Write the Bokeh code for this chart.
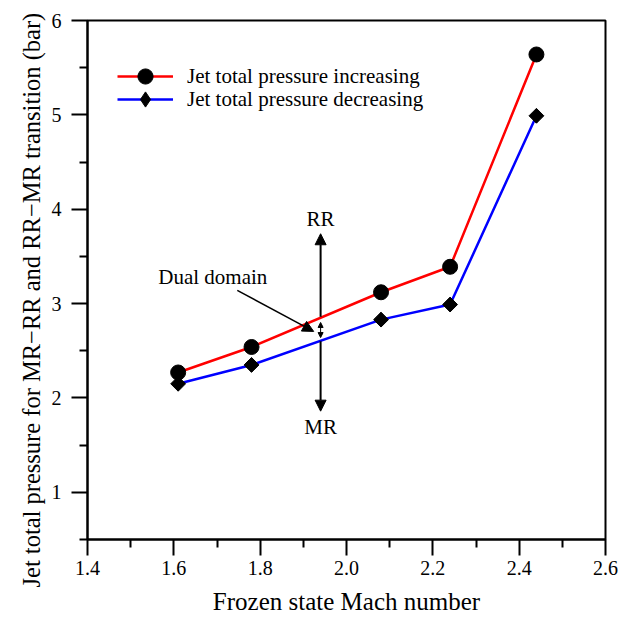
import math
from bokeh.plotting import figure
from bokeh.models import (Range1d, FixedTicker, PrintfTickFormatter, Legend,
                          LegendItem, Arrow, NormalHead, Label, Title)
from bokeh.embed import file_html
from bokeh.resources import INLINE

# ---- data ----
mach = [1.61, 1.78, 2.08, 2.24, 2.44]
p_increasing = [2.27, 2.54, 3.12, 3.39, 5.64]
p_decreasing = [2.15, 2.35, 2.83, 2.99, 4.99]

x_major = [1.4, 1.6, 1.8, 2.0, 2.2, 2.4, 2.6]
x_minor = [1.5, 1.7, 1.9, 2.1, 2.3, 2.5]
y_major = [1, 2, 3, 4, 5, 6]
y_minor = [0.5, 1.5, 2.5, 3.5, 4.5, 5.5]

x_title = "Frozen state Mach number"
y_title = "Jet total pressure for MR\u2212RR and RR\u2212MR transition (bar)"
series_labels = ["Jet total pressure increasing", "Jet total pressure decreasing"]

# annotation anchors (data units)
regime_x = 1.94
rr_arrow = [3.74, 2.86]      # tip, start
mr_arrow = [1.86, 2.60]
rr_label = [1.94, 3.90]
mr_label = [1.94, 1.69]
dual_small = [2.80, 2.64]
dual_label = [1.564, 3.28]
dual_arrow = [1.747, 3.14, 1.924, 2.705]

FONT = "Liberation Serif"

p = figure(width=620, height=619, output_backend="svg", toolbar_location=None,
           x_range=Range1d(1.4, 2.6), y_range=Range1d(0.5, 6.0),
           min_border_left=87, min_border_right=15, min_border_top=20,
           min_border_bottom=80)
p.xgrid.visible = False
p.ygrid.visible = False
p.outline_line_color = "black"
p.outline_line_width = 2
p.outline_line_alpha = 1
p.background_fill_color = "white"
p.border_fill_color = "white"

for ax in (p.xaxis[0], p.yaxis[0]):
    ax.axis_line_color = "black"
    ax.axis_line_width = 2
    ax.major_tick_line_color = "black"
    ax.major_tick_line_width = 2
    ax.minor_tick_line_color = "black"
    ax.minor_tick_line_width = 2
    ax.major_tick_in = 0
    ax.major_tick_out = 16
    ax.minor_tick_in = 0
    ax.minor_tick_out = 8
    ax.major_label_text_font = FONT
    ax.major_label_text_font_size = "20px"
    ax.major_label_text_color = "black"
    ax.axis_label_text_font = FONT
    ax.axis_label_text_font_size = "25px"
    ax.axis_label_text_font_style = "normal"
    ax.axis_label_text_color = "black"

p.xaxis.ticker = FixedTicker(ticks=x_major, minor_ticks=x_minor)
p.xaxis.formatter = PrintfTickFormatter(format="%.1f")
p.xaxis.major_label_standoff = 5
p.xaxis.axis_label = x_title
p.xaxis.axis_label_standoff = 10

p.yaxis.ticker = FixedTicker(ticks=y_major, minor_ticks=y_minor)
p.yaxis.formatter = PrintfTickFormatter(format="%d")
p.yaxis.major_label_standoff = 10
p.yaxis.major_label_orientation = "horizontal"

# y title as a side title, anchored at its start so it can be shifted like the reference
p.add_layout(Title(text=y_title, align="left", offset=-48, standoff=7,
                   text_font=FONT, text_font_size="24.5px",
                   text_font_style="normal", text_color="black"), "left")

red_line = p.line(mach, p_increasing, line_color="#ff0000", line_width=2.5)
blue_line = p.line(mach, p_decreasing, line_color="#0000ff", line_width=2.5)
# legend sample for the diamonds (legend glyphs ignore marker angle); hidden under the markers
blue_key = p.scatter(mach, p_decreasing, marker="diamond", size=14,
                     fill_color="black", line_color="black")
red_pts = p.scatter(mach, p_increasing, marker="circle", size=15,
                    fill_color="black", line_color="black")
blue_pts = p.scatter(mach, p_decreasing, marker="square", size=10.5,
                     angle=math.pi / 4, fill_color="black", line_color="black")

# regime arrows
big_head = dict(size=11, fill_color="black", line_color="black")
p.add_layout(Arrow(end=NormalHead(**big_head), start=None,
                   x_start=regime_x, y_start=rr_arrow[1],
                   x_end=regime_x, y_end=rr_arrow[0],
                   line_color="black", line_width=2))
p.add_layout(Arrow(end=NormalHead(**big_head), start=None,
                   x_start=regime_x, y_start=mr_arrow[1],
                   x_end=regime_x, y_end=mr_arrow[0],
                   line_color="black", line_width=2))
p.add_layout(Arrow(end=NormalHead(size=5, fill_color="black", line_color="black"),
                   start=NormalHead(size=5, fill_color="black", line_color="black"),
                   x_start=regime_x, y_start=dual_small[1],
                   x_end=regime_x, y_end=dual_small[0],
                   line_color="black", line_width=1))
p.add_layout(Arrow(end=NormalHead(size=11, fill_color="black", line_color="black"),
                   x_start=dual_arrow[0], y_start=dual_arrow[1],
                   x_end=dual_arrow[2], y_end=dual_arrow[3],
                   line_color="black", line_width=1.5))

for (lx, ly), txt, align in [(rr_label, "RR", "center"), (mr_label, "MR", "center"),
                             (dual_label, "Dual domain", "left")]:
    p.add_layout(Label(x=lx, y=ly, text=txt, text_align=align,
                       text_baseline="middle", text_font=FONT,
                       text_font_size="21px", text_color="black"))

legend_style = dict(glyph_width=56, glyph_height=38, label_height=23,
                    label_standoff=14, spacing=0, padding=0, margin=0,
                    border_line_alpha=0, background_fill_alpha=0,
                    label_text_font=FONT, label_text_font_size="21px",
                    label_text_color="black")
p.add_layout(Legend(items=[LegendItem(label=series_labels[0],
                                      renderers=[red_line, red_pts])],
                    location=(30, 444), **legend_style))
p.add_layout(Legend(items=[LegendItem(label=series_labels[1],
                                      renderers=[blue_line, blue_key])],
                    location=(30, 421), **legend_style))

with open("out.html", "w") as f:
    f.write(file_html(p, INLINE))
